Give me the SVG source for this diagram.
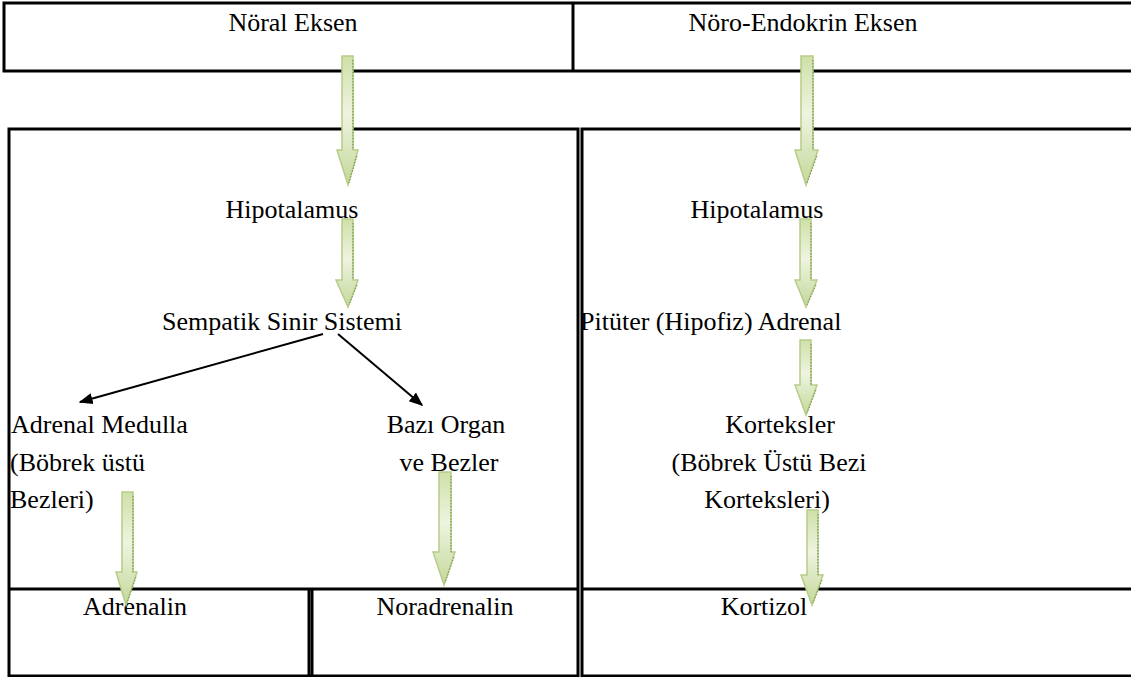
<svg xmlns="http://www.w3.org/2000/svg" width="1131" height="677" viewBox="0 0 1131 677">
<defs>
<linearGradient id="g" x1="0" y1="0" x2="0" y2="1">
<stop offset="0" stop-color="#cfe0a8"/>
<stop offset="0.45" stop-color="#eef4e0"/>
<stop offset="1" stop-color="#c4d89a"/>
</linearGradient>
<marker id="ahb" viewBox="0 0 10 10" refX="9" refY="5" markerWidth="14" markerHeight="14" markerUnits="userSpaceOnUse" orient="auto">
<path d="M0,1 L10,5 L0,9 z" fill="#000"/>
</marker>
</defs>
<style>
.b{fill:none;stroke:#000;stroke-width:3}
.t{font-family:'Liberation Serif','DejaVu Serif',serif;font-size:26px;fill:#000}
.c{text-anchor:middle}
.ba{fill:url(#g);stroke:#b6cd88;stroke-width:1.5}
.sh{fill:none;stroke:#6f8a3a;stroke-width:1;stroke-dasharray:1.5 1.5}
.k{stroke:#000;stroke-width:2;fill:none}
</style>
<rect width="1131" height="677" fill="#fff"/>
<g id="frames">
<rect class="b" x="4" y="3" width="1130" height="68"/>
<line class="b" x1="573" y1="3" x2="573" y2="71"/>
<rect class="b" x="9" y="129" width="569" height="547"/>
<rect class="b" x="582" y="129" width="552" height="547"/>
<line class="b" x1="9" y1="589" x2="578" y2="589"/>
<line class="b" x1="582" y1="589" x2="1134" y2="589"/>
<line class="b" x1="309" y1="589" x2="309" y2="676"/>
<line class="b" x1="312" y1="589" x2="312" y2="676"/>
</g>
<g font-family="Liberation Serif, serif" font-size="26">
<g id="noral-eksen"><text class="t c" x="293" y="31">Nöral Eksen</text></g>
<g id="noro-endokrin-eksen"><text class="t c" x="803" y="31">Nöro-Endokrin Eksen</text></g>
<g id="hipotalamus-l"><text class="t c" x="292" y="218">Hipotalamus</text></g>
<g id="hipotalamus-r"><text class="t c" x="757" y="218">Hipotalamus</text></g>
<g id="sempatik"><text class="t c" x="282" y="330">Sempatik Sinir Sistemi</text></g>
<g id="pituter"><text class="t" x="580" y="330">Pitüter (Hipofiz) Adrenal</text></g>
<g id="adrenal-medulla">
<text class="t" x="11" y="433">Adrenal Medulla</text>
<text class="t" x="10" y="471">(Böbrek üstü</text>
<text class="t" x="10" y="508">Bezleri)</text>
</g>
<g id="bazi-organ">
<text class="t c" x="446" y="433">Bazı Organ</text>
<text class="t c" x="449" y="471">ve Bezler</text>
</g>
<g id="korteksler">
<text class="t c" x="780" y="433">Korteksler</text>
<text class="t c" x="769" y="471">(Böbrek Üstü Bezi</text>
<text class="t c" x="767" y="508">Korteksleri)</text>
</g>
<g id="adrenalin"><text class="t c" x="135" y="615">Adrenalin</text></g>
<g id="noradrenalin"><text class="t c" x="445" y="615">Noradrenalin</text></g>
<g id="kortizol"><text class="t c" x="764" y="615">Kortizol</text></g>
</g>
<g id="connectors">
<path class="ba" d="M342,56 H353 V150 H358 L348,185 L337,150 H342 Z"/>
<path class="sh" d="M353,60 V150 M357,156 L349,183"/>
<path class="ba" d="M342,219 H353 V280 H358 L348,307 L336,280 H342 Z"/>
<path class="sh" d="M353,223 V280 M357,285 L349,305"/>
<path class="ba" d="M122,492 H133 V572 H137 L126,605 L116,572 H122 Z"/>
<path class="sh" d="M133,496 V572 M136,577 L127,603"/>
<path class="ba" d="M439,472 H451 V552 H455 L444,585 L433,552 H439 Z"/>
<path class="sh" d="M451,476 V552 M454,557 L445,583"/>
<path class="ba" d="M801,56 H813 V150 H818 L806,185 L795,150 H801 Z"/>
<path class="sh" d="M813,60 V150 M817,156 L807,183"/>
<path class="ba" d="M800,219 H811 V280 H817 L806,307 L795,280 H800 Z"/>
<path class="sh" d="M811,223 V280 M816,285 L807,305"/>
<path class="ba" d="M800,340 H811 V385 H817 L806,415 L795,385 H800 Z"/>
<path class="sh" d="M811,344 V385 M816,390 L807,413"/>
<path class="ba" d="M807,510 H818 V575 H823 L812,605 L801,575 H807 Z"/>
<path class="sh" d="M818,514 V575 M822,580 L813,603"/>
<line class="k" x1="323" y1="334" x2="80" y2="402" marker-end="url(#ahb)"/>
<line class="k" x1="338" y1="334" x2="422" y2="405" marker-end="url(#ahb)"/>
</g>
</svg>
